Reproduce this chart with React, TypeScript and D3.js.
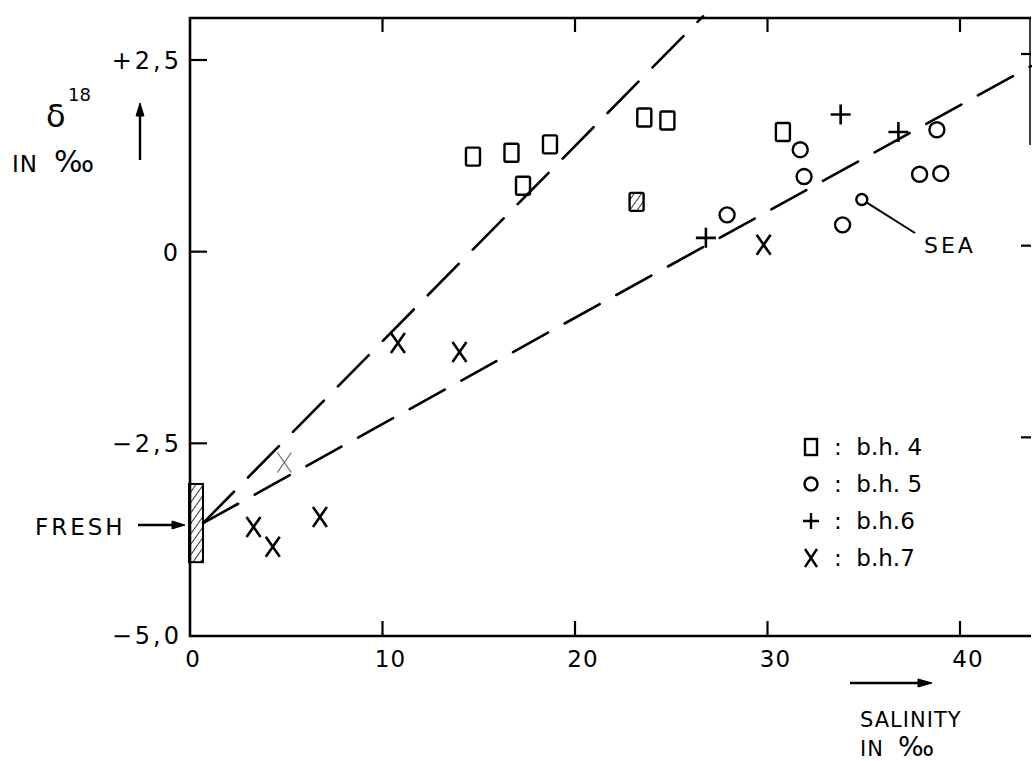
import React, { useEffect, useRef } from "react";
import * as d3 from "d3";

// axis ticks
const xTicks = [0, 10, 20, 30, 40];
const xTickLabels = ["0", "10", "20", "30", "40"];
const yTicks = [2.5, 0, -2.5, -5];
const yTickLabels = ["+2,5", "0", "−2,5", "−5,0"];

// salinity (‰), delta18 (‰) per borehole
const bh4 = [
  [14.7, 1.24],
  [16.7, 1.29],
  [18.7, 1.4],
  [17.3, 0.86],
  [23.6, 1.75],
  [24.8, 1.71],
  [30.8, 1.56],
];
const bh4Hatched = [[23.2, 0.65]];
const bh5 = [
  [31.7, 1.33],
  [31.9, 0.98],
  [27.9, 0.48],
  [33.9, 0.35],
  [38.8, 1.59],
  [37.9, 1.01],
  [39.0, 1.02],
];
const bh6 = [
  [26.8, 0.18],
  [33.8, 1.79],
  [36.8, 1.56],
];
const bh7 = [
  [29.8, 0.09],
  [10.8, -1.19],
  [14.0, -1.31],
  [3.3, -3.59],
  [4.3, -3.85],
  [6.75, -3.46],
];
const bh7Faint = [[4.9, -2.75]];
const sea = [34.9, 0.68];
const fresh = { x: 0, lo: -4.05, hi: -3.03, mid: -3.55 };

const mixLines = [
  [
    [0.68, -3.54],
    [26.65, 3.07],
  ],
  [
    [0.68, -3.54],
    [43.69, 2.42],
  ],
];

const legendItems = [
  { sym: "square", label: "b.h. 4" },
  { sym: "circle", label: "b.h. 5" },
  { sym: "plus", label: "b.h.6" },
  { sym: "cross", label: "b.h.7" },
];

function App() {
  const svgRef = useRef(null);
  const [width, height] = [1032, 761];
  const margin = { top: 18, right: 1, bottom: 126, left: 190 };
  const font = "DejaVu Sans, sans-serif";

  useEffect(() => {
    const svg = d3.select(svgRef.current);
    svg.selectAll("*").remove();

    const x = d3.scaleLinear().domain([0, 40]).range([190, 960]);
    const y = d3.scaleLinear().domain([-5, 2.5]).range([635, 60]);
    const left = margin.left;
    const top = margin.top;
    const bottom = height - margin.bottom + 1;
    const right = width - margin.right;

    const defs = svg.append("defs");
    defs
      .append("pattern")
      .attr("id", "hatch")
      .attr("width", 6)
      .attr("height", 6)
      .attr("patternUnits", "userSpaceOnUse")
      .attr("patternTransform", "rotate(35)")
      .append("line")
      .attr("x1", 0)
      .attr("y1", 0)
      .attr("x2", 0)
      .attr("y2", 6)
      .attr("stroke", "#000")
      .attr("stroke-width", 1.6);

    const g = svg.append("g").attr("stroke", "#000").attr("fill", "none");

    // frame
    g.append("path")
      .attr("d", `M${right},${top}H${left}V${bottom}H${right}`)
      .attr("stroke-width", 2.6);
    g.append("line")
      .attr("x1", right - 1)
      .attr("x2", right - 1)
      .attr("y1", top)
      .attr("y2", 145)
      .attr("stroke-width", 1.5);

    // ticks
    xTicks.slice(1).forEach((t) => {
      g.append("line")
        .attr("x1", x(t))
        .attr("x2", x(t))
        .attr("y1", bottom)
        .attr("y2", bottom - 15)
        .attr("stroke-width", 2.2);
      g.append("line")
        .attr("x1", x(t))
        .attr("x2", x(t))
        .attr("y1", top)
        .attr("y2", top + 14)
        .attr("stroke-width", 2.2);
    });
    yTicks.slice(0, 3).forEach((t) => {
      g.append("line")
        .attr("x1", left)
        .attr("x2", left + 17)
        .attr("y1", y(t))
        .attr("y2", y(t))
        .attr("stroke-width", 2.2);
      g.append("line")
        .attr("x1", right)
        .attr("x2", right - 10)
        .attr("y1", y(t) - 6)
        .attr("y2", y(t) - 6)
        .attr("stroke-width", 2.2);
    });

    // tick labels
    const txt = svg
      .append("g")
      .attr("font-family", font)
      .attr("fill", "#000");
    xTicks.forEach((t, i) => {
      txt
        .append("text")
        .attr("x", x(t) + (i === 0 ? 3 : 8))
        .attr("y", 667)
        .attr("text-anchor", "middle")
        .attr("font-size", 23)
        .attr("letter-spacing", 1)
        .text(xTickLabels[i]);
    });
    yTicks.forEach((t, i) => {
      txt
        .append("text")
        .attr("x", i === 1 ? 178 : 182)
        .attr("y", y(t) + 9)
        .attr("text-anchor", "end")
        .attr("font-size", 24)
        .attr("letter-spacing", i === 1 ? 0 : 3)
        .text(yTickLabels[i]);
    });

    // mixing lines
    const line = d3
      .line()
      .x((d) => x(d[0]))
      .y((d) => y(d[1]));
    mixLines.forEach((l, i) => {
      g.append("path")
        .attr("d", line(l))
        .attr("stroke-width", 2.6)
        .attr("stroke-dasharray", i === 0 ? "44 20" : "40 19")
        .attr("stroke-linecap", "round");
    });

    // fresh water bar
    g.append("rect")
      .attr("x", x(fresh.x) - 1)
      .attr("y", y(fresh.hi))
      .attr("width", 14)
      .attr("height", y(fresh.lo) - y(fresh.hi))
      .attr("fill", "url(#hatch)")
      .attr("stroke-width", 2);

    // markers
    const square = (d, cls) =>
      g
        .append("rect")
        .attr("x", x(d[0]) - 7)
        .attr("y", y(d[1]) - 9)
        .attr("width", 14)
        .attr("height", 18)
        .attr("rx", 1.5)
        .attr("stroke-width", 2.4)
        .attr("fill", cls ? "url(#hatch)" : "none");
    const circle = (d, r = 7.5) =>
      g
        .append("circle")
        .attr("cx", x(d[0]))
        .attr("cy", y(d[1]))
        .attr("r", r)
        .attr("stroke-width", 2.4);
    const plus = (d) =>
      g
        .append("path")
        .attr("d", `M${x(d[0]) - 10},${y(d[1])}h20M${x(d[0])},${y(d[1]) - 10}v20`)
        .attr("stroke-width", 2.6);
    const cross = (d, w = 2.6) =>
      g
        .append("path")
        .attr(
          "d",
          `M${x(d[0]) - 7},${y(d[1]) - 10}L${x(d[0]) + 7},${y(d[1]) + 10}M${x(d[0]) + 7},${y(d[1]) - 10}L${x(d[0]) - 7},${y(d[1]) + 10}`
        )
        .attr("stroke-width", w);

    bh4.forEach((d) => square(d, false));
    bh4Hatched.forEach((d) => square(d, true));
    bh5.forEach((d) => circle(d));
    bh6.forEach((d) => plus(d));
    bh7.forEach((d) => cross(d));
    bh7Faint.forEach((d) => cross(d, 1.2).attr("stroke", "#666"));

    // sea
    circle(sea, 5.5);
    g.append("line")
      .attr("x1", x(sea[0]) + 5)
      .attr("y1", y(sea[1]) + 3)
      .attr("x2", 915)
      .attr("y2", 233)
      .attr("stroke-width", 2);
    txt
      .append("text")
      .attr("x", 924)
      .attr("y", 253)
      .attr("font-size", 22)
      .attr("letter-spacing", 3)
      .text("SEA");

    // fresh label + arrow
    txt
      .append("text")
      .attr("x", 35)
      .attr("y", 535)
      .attr("font-size", 23)
      .attr("letter-spacing", 3)
      .text("FRESH");
    g.append("path").attr("d", "M138,525H176").attr("stroke-width", 2.4);
    g.append("path").attr("d", "M172,521L185,525L172,529Z").attr("fill", "#000");

    // y axis title
    txt.append("text").attr("x", 46).attr("y", 127).attr("font-size", 32).text("δ");
    txt.append("text").attr("x", 68).attr("y", 101).attr("font-size", 18).text("18");
    const yt = txt.append("text").attr("x", 12).attr("y", 172).attr("font-size", 23);
    yt.append("tspan").attr("letter-spacing", 1).text("IN");
    yt.append("tspan").attr("dx", 16).attr("font-size", 30).text("‰");
    g.append("path").attr("d", "M140,160V112").attr("stroke-width", 2.4);
    g.append("path").attr("d", "M136,116L140,103L144,116Z").attr("fill", "#000");

    // x axis title
    g.append("path").attr("d", "M850,683H922").attr("stroke-width", 2.4);
    g.append("path").attr("d", "M918,679L932,683L918,687Z").attr("fill", "#000");
    txt
      .append("text")
      .attr("x", 860)
      .attr("y", 727)
      .attr("font-size", 21)
      .attr("letter-spacing", 1)
      .text("SALINITY");
    const xt = txt.append("text").attr("x", 860).attr("y", 756).attr("font-size", 21);
    xt.append("tspan").attr("letter-spacing", 1).text("IN");
    xt.append("tspan").attr("dx", 14).attr("font-size", 27).text("‰");

    // legend
    const lg = svg.append("g");
    legendItems.forEach((it, i) => {
      const ly = 447 + i * 37;
      const sx = 811;
      if (it.sym === "square")
        lg.append("rect").attr("x", sx - 6).attr("y", ly - 8).attr("width", 12).attr("height", 16)
          .attr("fill", "none").attr("stroke", "#000").attr("stroke-width", 2.4);
      if (it.sym === "circle")
        lg.append("circle").attr("cx", sx).attr("cy", ly).attr("r", 6.5)
          .attr("fill", "none").attr("stroke", "#000").attr("stroke-width", 2.4);
      if (it.sym === "plus")
        lg.append("path").attr("d", `M${sx - 8},${ly}h16M${sx},${ly - 8}v16`)
          .attr("stroke", "#000").attr("stroke-width", 2.4);
      if (it.sym === "cross")
        lg.append("path").attr("d", `M${sx - 6},${ly - 9}L${sx + 6},${ly + 9}M${sx + 6},${ly - 9}L${sx - 6},${ly + 9}`)
          .attr("stroke", "#000").attr("stroke-width", 2.4);
      lg.append("text")
        .attr("x", 834)
        .attr("y", ly + 8)
        .attr("font-family", font)
        .attr("font-size", 23)
        .text(":  " + it.label)
        .attr("xml:space", "preserve");
    });
  }, []);

  return (
    <div>
      <svg
        ref={svgRef}
        width={width}
        height={height}
        style={{ position: "absolute", left: 0, top: 0, background: "#fff" }}
      ></svg>
    </div>
  );
}

export default App;
